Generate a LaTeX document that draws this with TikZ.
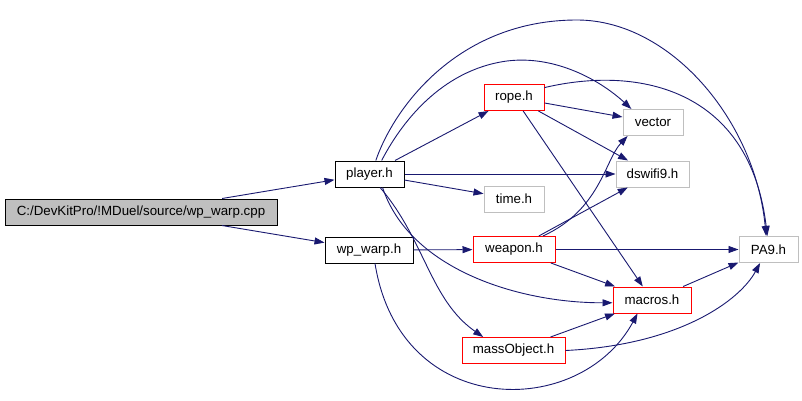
\documentclass[tikz,border=0pt]{standalone}
\usepackage{fontspec}
\setmainfont{Liberation Sans}
\usepackage{tikz}
\usetikzlibrary{arrows.meta}
\usepackage{xcolor}
\definecolor{edgeblue}{RGB}{25,25,112}
\definecolor{boxgray}{RGB}{191,191,191}
\tikzset{
    filebox/.style={draw=black, line width=1pt, rectangle, inner sep=0pt,
        minimum height=26pt, font=\fontsize{13.3}{16}\selectfont},
    redbox/.style={filebox, draw=red},
    graybox/.style={filebox, draw=boxgray},
    incl/.style={edgeblue, line width=0.9pt, -{Triangle[length=10pt,width=7pt]}},
}

\begin{document}
\begin{tikzpicture}[x=1pt, y=-1pt]
    \useasboundingbox (0,0) rectangle (802,401);

    % Files
    \node[filebox, fill=boxgray, minimum width=272pt] (main) at (141,212) {C:/DevKitPro/!MDuel/source/wp\_warp.cpp};
    \node[filebox, minimum width=69pt] (player) at (369.5,174) {player.h};
    \node[filebox, minimum width=88pt] (wpwarp) at (369,250) {wp\_warp.h};
    \node[redbox, minimum width=60pt] (rope) at (514,97.5) {rope.h};
    \node[graybox, minimum width=60pt] (timeh) at (514,199) {time.h};
    \node[redbox, minimum width=82pt] (weapon) at (514,249.5) {weapon.h};
    \node[redbox, minimum width=103pt] (massobj) at (513.5,350.5) {massObject.h};
    \node[graybox, minimum width=60pt] (vector) at (653,122.5) {vector};
    \node[graybox, minimum width=73pt] (dswifi) at (652.5,174) {dswifi9.h};
    \node[redbox, minimum width=78pt] (macros) at (652,300) {macros.h};
    \node[graybox, minimum width=59pt] (pa9) at (768.5,249.5) {PA9.h};

    % Straight includes
    \draw[incl] (main) -- (player);
    \draw[incl] (main) -- (wpwarp);
    \draw[incl] (player) -- (rope);
    \draw[incl] (player) -- (timeh);
    \draw[incl] (player) -- (dswifi);
    \draw[incl] (wpwarp) -- (weapon);
    \draw[incl] (rope) -- (vector);
    \draw[incl] (rope) -- (dswifi);
    \draw[incl] (rope) -- (macros);
    \draw[incl] (weapon) -- (dswifi);
    \draw[incl] (weapon) -- (pa9);
    \draw[incl] (weapon) -- (macros);
    \draw[incl] (massobj) -- (macros);
    \draw[incl] (macros) -- (pa9);

    % Curved includes
    \draw[incl] (player.65) .. controls (395,105) and (460,20) .. (577,20)
        .. controls (670,20) and (755,120) .. (pa9.100);
    \draw[incl] (player.48) .. controls (400,125) and (440,70) .. (507,61)
        .. controls (555,55) and (600,80) .. (vector.148);
    \draw[incl] (rope.18) .. controls (640,65) and (750,90) .. (pa9.95);
    \draw[incl] (player.-46) .. controls (410,270) and (520,303) .. (macros.184);
    \draw[incl] (player.-52) .. controls (425,240) and (430,300) .. (massobj.156);
    \draw[incl] (wpwarp.-66) .. controls (400,420) and (580,420) .. (macros.-137);
    \draw[incl] (weapon.25) .. controls (600,210) and (605,160) .. (vector.-152);
    \draw[incl] (massobj.east) .. controls (680,345) and (740,300) .. (pa9.-122);
\end{tikzpicture}
\end{document}
